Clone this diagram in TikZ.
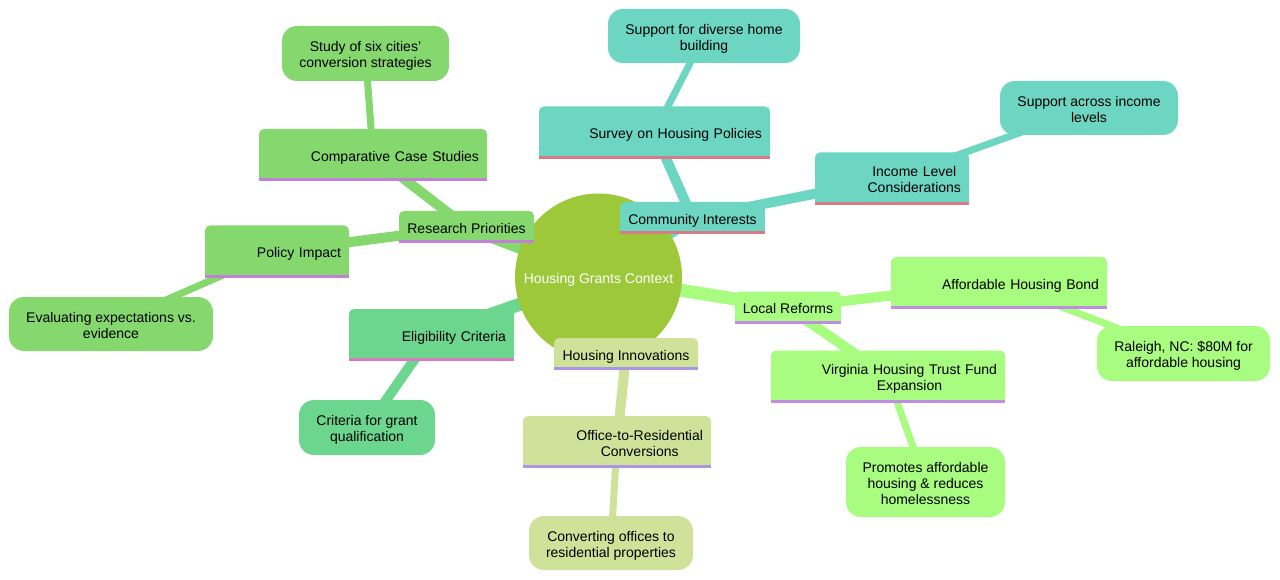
\documentclass[tikz,border=0pt]{standalone}
\usepackage{fontspec}
\setmainfont{Liberation Sans}
\usetikzlibrary{backgrounds}

\definecolor{rootC}{RGB}{157,200,58}
\definecolor{resC}{RGB}{132,216,110}
\definecolor{resU}{RGB}{196,128,214}
\definecolor{eliC}{RGB}{108,214,142}
\definecolor{eliU}{RGB}{214,124,190}
\definecolor{comC}{RGB}{108,214,194}
\definecolor{comU}{RGB}{214,124,134}
\definecolor{locC}{RGB}{168,252,128}
\definecolor{locU}{RGB}{192,140,228}
\definecolor{innC}{RGB}{206,226,154}
\definecolor{innU}{RGB}{170,150,228}

% text block, lines centred, sits a little low
\newcommand\lbl[1]{\raisebox{-3pt}[\height][\depth]{\begin{tabular}{@{}c@{}}#1\end{tabular}}}

\begin{document}
\begin{tikzpicture}[x=1pt,y=-1pt,
  every node/.style={font=\fontsize{14}{16}\selectfont, text=black},
  topic/.style={fill=#1, rounded corners=5, inner xsep=8, inner ysep=0, minimum height=52, align=right},
  sub/.style={fill=#1, rounded corners=5, inner sep=0, minimum height=32},
  leaf/.style={fill=#1, rounded corners=15, inner sep=0},
  e1/.style={line width=13, draw=#1},
  e2/.style={line width=10, draw=#1},
  e3/.style={line width=7, draw=#1}]
\useasboundingbox (0,0) rectangle (1280,580);

% root
\node[circle, fill=rootC, minimum size=167, inner sep=0, text=white] (hgc) at (598.5,277) {\lbl{Housing Grants Context}};

% research
\node[sub=resC, minimum width=135] (rp) at (466.5,227) {\lbl{Research Priorities}};
\node[topic=resC, text width=212] (ccs) at (373,155) {\lbl{Comparative Case Studies}};
\node[leaf=resC, minimum width=167, minimum height=55] (six) at (365.5,53.5) {\lbl{Study of six cities'\\conversion strategies}};
\node[topic=resC, text width=128] (pi) at (277,251.5) {\lbl{Policy Impact}};
\node[leaf=resC, minimum width=204, minimum height=54] (eve) at (111,324) {\lbl{Evaluating expectations vs.\\evidence}};

% eligibility
\node[topic=eliC, text width=149] (ec) at (431.5,335) {\lbl{Eligibility Criteria}};
\node[leaf=eliC, minimum width=136, minimum height=55] (cgq) at (367,427.5) {\lbl{Criteria for grant\\qualification}};

% community
\node[sub=comC, minimum width=145] (ci) at (692.5,218) {\lbl{Community Interests}};
\node[topic=comC, text width=215] (shp) at (654.5,132.5) {\lbl{Survey on Housing Policies}};
\node[leaf=comC, minimum width=192, minimum height=54] (sdh) at (704,36) {\lbl{Support for diverse home\\building}};
\node[topic=comC, text width=138] (ilc) at (892,178.5) {\lbl{Income Level\\Considerations}};
\node[leaf=comC, minimum width=178, minimum height=54] (sil) at (1089,108) {\lbl{Support across income\\levels}};

% local reforms
\node[sub=locC, minimum width=106] (lr) at (788,307.5) {\lbl{Local Reforms}};
\node[topic=locC, text width=200] (ahb) at (999,283) {\lbl{Affordable Housing Bond}};
\node[leaf=locC, minimum width=173, minimum height=55] (ral) at (1183.5,353.5) {\lbl{Raleigh, NC: \$80M for\\affordable housing}};
\node[topic=locC, text width=218] (vhtf) at (888,376.5) {\lbl{Virginia Housing Trust Fund\\Expansion}};
\node[leaf=locC, minimum width=159, minimum height=70] (pah) at (925.5,482) {\lbl{Promotes affordable\\housing \& reduces\\homelessness}};

% innovations
\node[sub=innC, minimum width=144] (hi) at (626,354) {\lbl{Housing Innovations}};
\node[topic=innC, text width=172] (otr) at (617,442) {\lbl{Office-to-Residential\\Conversions}};
\node[leaf=innC, minimum width=164, minimum height=54] (cor) at (611,543) {\lbl{Converting offices to\\residential properties}};

% square bottoms + underline
\foreach \n/\c/\u in {rp/resC/resU, ccs/resC/resU, pi/resC/resU, ec/eliC/eliU,
  ci/comC/comU, shp/comC/comU, ilc/comC/comU, lr/locC/locU, ahb/locC/locU,
  vhtf/locC/locU, hi/innC/innU, otr/innC/innU}{
  \fill[fill=\c] ([yshift=6]\n.south west) rectangle (\n.south east);
  \fill[fill=\u] ([yshift=3]\n.south west) rectangle (\n.south east);
}

\begin{scope}[on background layer]
\draw[e1=resC] (hgc.center) -- (rp.center);
\draw[e2=resC] (rp.center) -- (ccs.center);
\draw[e3=resC] (ccs.center) -- (six.center);
\draw[e2=resC] (rp.center) -- (pi.center);
\draw[e3=resC] (pi.center) -- (eve.center);
\draw[e1=eliC] (hgc.center) -- (ec.center);
\draw[e2=eliC] (ec.center) -- (cgq.center);
\draw[e1=comC] (hgc.center) -- (ci.center);
\draw[e2=comC] (ci.center) -- (shp.center);
\draw[e3=comC] (shp.center) -- (sdh.center);
\draw[e2=comC] (ci.center) -- (ilc.center);
\draw[e3=comC] (ilc.center) -- (sil.center);
\draw[e1=locC] (hgc.center) -- (lr.center);
\draw[e2=locC] (lr.center) -- (ahb.center);
\draw[e3=locC] (ahb.center) -- (ral.center);
\draw[e2=locC] (lr.center) -- (vhtf.center);
\draw[e3=locC] (vhtf.center) -- (pah.center);
\draw[e1=innC] (hgc.center) -- (hi.center);
\draw[e2=innC] (hi.center) -- (otr.center);
\draw[e3=innC] (otr.center) -- (cor.center);
\end{scope}
\end{tikzpicture}
\end{document}
